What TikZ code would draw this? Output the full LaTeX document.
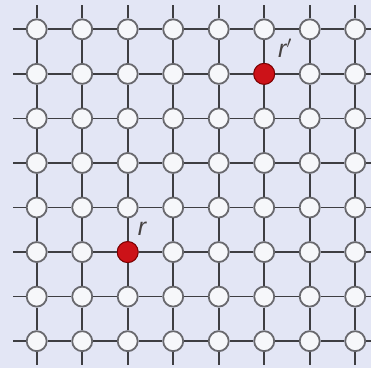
\documentclass[tikz,border=0pt]{standalone}
\usepackage{fontspec}
\setsansfont{Liberation Sans}
\definecolor{bg}{RGB}{227,230,245}
\definecolor{edgec}{RGB}{62,62,66}
\definecolor{ringc}{RGB}{105,105,110}
\definecolor{fillc}{RGB}{246,247,250}
\definecolor{redc}{RGB}{204,18,24}
\definecolor{labc}{RGB}{70,66,66}
\tikzset{
  site/.style={circle,draw=ringc,line width=1.8pt,fill=fillc,minimum size=20pt,inner sep=0pt},
  redsite/.style={circle,draw=red!50!black,line width=1pt,fill=redc,minimum size=21pt,inner sep=0pt},
  bond/.style={draw=edgec,line width=1.7pt},
  lab/.style={font=\sffamily\itshape\fontsize{25}{25}\selectfont,text=labc,inner sep=0pt}
}
\begin{document}
\begin{tikzpicture}[x=1pt,y=-1pt]
\fill[bg] (0,0) rectangle (371,368);
\useasboundingbox (0,0) rectangle (371,368);
% sites
\foreach \i in {1,...,8}{
  \foreach \j in {1,...,8}{
    \pgfmathsetmacro{\xx}{36.7+(\i-1)*45.5}
    \pgfmathsetmacro{\yy}{29.3+(\j-1)*44.55}
    \node[site] (n-\i-\j) at (\xx,\yy) {};
  }
}
\node[redsite] at (n-3-6) {};
\node[redsite] at (n-6-2) {};
% stubs
\foreach \i in {1,...,8}{
  \pgfmathsetmacro{\xx}{36.7+(\i-1)*45.5}
  \coordinate (t-\i) at (\xx,5);
  \coordinate (b-\i) at (\xx,365);
  \pgfmathsetmacro{\yy}{29.3+(\i-1)*44.55}
  \coordinate (l-\i) at (13,\yy);
  \coordinate (r-\i) at (371,\yy);
}
% bonds
\foreach \k in {1,...,8}{
  \draw[bond] (t-\k) -- (n-\k-1);
  \draw[bond] (n-\k-8) -- (b-\k);
  \draw[bond] (l-\k) -- (n-1-\k);
  \draw[bond] (n-8-\k) -- (r-\k);
}
\foreach \a [evaluate=\a as \b using int(\a+1)] in {1,...,7}{
  \foreach \k in {1,...,8}{
    \draw[bond] (n-\a-\k) -- (n-\b-\k);
    \draw[bond] (n-\k-\a) -- (n-\k-\b);
  }
}
\node[lab] (lr) at (142,229) {r};
\node[lab] (lrp) at (285,48) {r$'$};
\end{tikzpicture}
\end{document}
